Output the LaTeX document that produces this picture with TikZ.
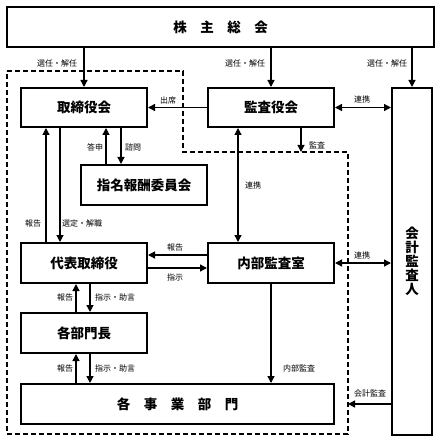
\documentclass[tikz,border=0pt]{standalone}
\usepackage{fontspec}
\newfontfamily\jp{Noto Sans CJK JP}
\usetikzlibrary{arrows.meta}
\begin{document}
\begin{tikzpicture}[x=1pt,y=-1pt,
  box/.style={draw,line width=2pt,inner sep=0pt,font=\jp\bfseries\fontsize{13.5}{14}\selectfont},
  arr/.style={line width=1.3pt,-{Triangle[length=7pt,width=7pt]}},
  darr/.style={line width=1.3pt,{Triangle[length=7pt,width=7pt]}-{Triangle[length=7pt,width=7pt]}},
  lbl/.style={font=\jp\fontsize{8}{9}\selectfont,inner sep=0pt},
  dline/.style={line width=1.3pt,dash pattern=on 5pt off 3pt}]
\useasboundingbox (0,0) rectangle (439,443);
% boxes
\node[box,minimum width=427pt,minimum height=40pt] (top) at (220.5,27) {株　主　総　会};
\node[box,minimum width=126pt,minimum height=39pt] (tori) at (84,107.5) {取締役会};
\node[box,minimum width=126pt,minimum height=39pt] (kansa) at (271,107.5) {監査役会};
\node[box,minimum width=40pt,minimum height=347pt,align=center] (kaikei) at (412,261.5) {会\\計\\監\\査\\人};
\node[box,minimum width=126pt,minimum height=40pt] (shimei) at (144,185) {指名報酬委員会};
\node[box,minimum width=126pt,minimum height=40pt] (daihyo) at (84,263) {代表取締役};
\node[box,minimum width=126pt,minimum height=40pt] (naibu) at (271,263) {内部監査室};
\node[box,minimum width=126pt,minimum height=40pt] (kakubu) at (84,333) {各部門長};
\node[box,minimum width=313pt,minimum height=40pt] (jigyo) at (177.5,404) {各　事　業　部　門};
% dashed boundary
\coordinate (dA) at (7,71);
\coordinate (dB) at (183,71);
\coordinate (dC) at (183,152);
\coordinate (dD) at (348,152);
\coordinate (dE) at (348,434);
\coordinate (dF) at (7,434);
\draw[dline] (dA) -- (dB) -- (dC) -- (dD) -- (dE) -- (dF) -- cycle;
% arrows from shareholders
\draw[arr] (top.south -| tori.center) -- (tori.north);
\draw[arr] (top.south -| kansa.center) -- (kansa.north);
\draw[arr] (top.south -| kaikei.center) -- (kaikei.north);
\node[lbl] (l1) at (57,63) {選任・解任};
\node[lbl] (l2) at (245,63) {選任・解任};
\node[lbl] (l3) at (387,63) {選任・解任};
% row 1
\draw[arr] (kansa.west) -- (tori.east);
\node[lbl] (l4) at (168,100) {出席};
\draw[darr] (kansa.east) -- (kansa.east -| kaikei.west);
\node[lbl] (l5) at (362,99) {連携};
% tori <-> daihyo
\draw[arr] ([xshift=26pt]daihyo.north west) -- ([xshift=26pt]tori.south west);
\draw[arr] ([xshift=40pt]tori.south west) -- ([xshift=40pt]daihyo.north west);
\node[lbl] (l6) at (33,223) {報告};
\node[lbl] (l7) at (82,223) {選定・解職};
% tori <-> shimei
\draw[arr] ([xshift=26pt]shimei.north west) -- ([xshift=26pt]shimei.north west |- tori.south);
\draw[arr] ([xshift=41pt]shimei.north west |- tori.south) -- ([xshift=41pt]shimei.north west);
\node[lbl] (l8) at (95,147) {答申};
\node[lbl] (l9) at (133,147) {諮問};
% kansa
\draw[darr] ([xshift=31pt]kansa.south west) -- ([xshift=31pt]naibu.north west);
\node[lbl] (l10) at (253,185) {連携};
\draw[arr] ([xshift=94pt]kansa.south west) -- ([xshift=94pt]kansa.south west |- dC);
\node[lbl] (l11) at (317,145) {監査};
% daihyo <-> naibu
\draw[arr] ([yshift=8pt]naibu.west) -- ([yshift=8pt]daihyo.east);
\draw[arr] ([yshift=-5pt]daihyo.east) -- ([yshift=-5pt]naibu.west);
\node[lbl] (l12) at (175,247) {報告};
\node[lbl] (l13) at (175,277) {指示};
\draw[darr] (naibu.east) -- (naibu.east -| kaikei.west);
\node[lbl] (l14) at (362,255) {連携};
% daihyo <-> kakubu
\draw[arr] ([xshift=56pt]kakubu.north west) -- ([xshift=56pt]daihyo.south west);
\draw[arr] ([xshift=70pt]daihyo.south west) -- ([xshift=70pt]kakubu.north west);
\node[lbl] (l15) at (65,297) {報告};
\node[lbl] (l16) at (115,297) {指示・助言};
% kakubu <-> jigyo
\draw[arr] ([xshift=56pt]jigyo.north west) -- ([xshift=56pt]kakubu.south west);
\draw[arr] ([xshift=70pt]kakubu.south west) -- ([xshift=70pt]jigyo.north west);
\node[lbl] (l17) at (65,368) {報告};
\node[lbl] (l18) at (115,368) {指示・助言};
% internal audit
\draw[arr] (naibu.south) -- (naibu.south |- jigyo.north);
\node[lbl] (l19) at (299,368) {内部監査};
% accounting audit
\draw[arr] (kaikei.west |- jigyo.center) -- (dE |- jigyo.center);
\node[lbl] (l20) at (370,393) {会計監査};
\end{tikzpicture}
\end{document}
